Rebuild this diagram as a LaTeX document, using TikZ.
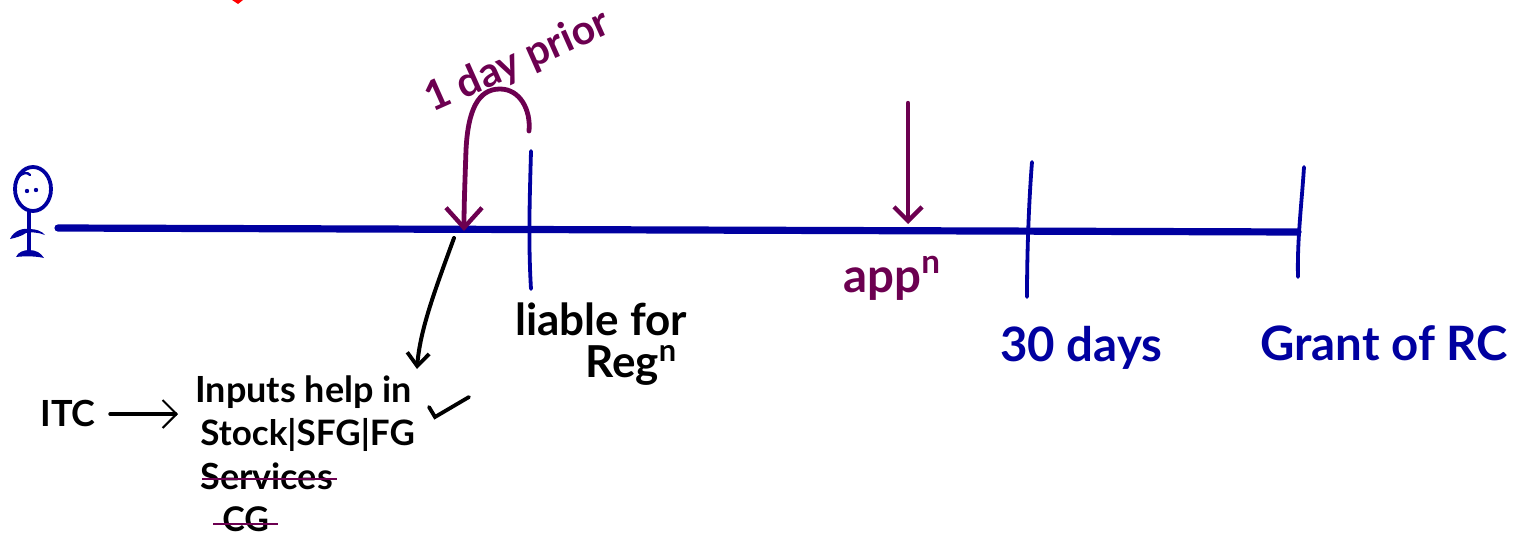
\documentclass[tikz,border=0pt]{standalone}
\usepackage{fontspec}
\setmainfont{Lato}
\usetikzlibrary{arrows.meta}
\definecolor{pen}{HTML}{0000A0}
\definecolor{plum}{HTML}{6C0050}
\tikzset{
  every picture/.style={x=0.5pt,y=-0.5pt},
  blueline/.style={draw=pen,line width=1.9pt,line cap=round},
  axisline/.style={draw=pen,line width=3.6pt,line cap=round},
  plumarrow/.style={draw=plum,line width=2.4pt,line cap=round,-{Straight Barb[length=10pt,width=18pt,line width=2.2pt]}},
  plumarrowsmall/.style={draw=plum,line width=2.2pt,line cap=round,-{Straight Barb[length=7pt,width=14pt,line width=2.2pt]}},
  blackarrow/.style={draw=black,line width=2pt,line cap=round,-{Straight Barb[length=6.5pt,width=11pt,line width=1.9pt]}},
  thinarrow/.style={draw=black,line width=1.7pt,line cap=round,-{Straight Barb[length=7pt,width=14pt,line width=1pt]}},
  strike/.style={draw=plum,line width=1.4pt},
  label/.style={inner sep=0pt,anchor=base west},
  bluetext/.style={label,text=pen,font=\bfseries\fontsize{23.7}{24}\selectfont},
  plumtext/.style={label,text=plum,font=\bfseries\fontsize{23.7}{24}\selectfont},
  blacktext/.style={label,text=black,font=\bfseries\fontsize{18}{18}\selectfont},
}
\begin{document}
\begin{tikzpicture}
\useasboundingbox (0,0) rectangle (1528,557);
% red mark cut by the top edge
\fill[red] (232,0) -- (243,0) -- (238,4) -- cycle;
% person
\draw[blueline] (33,189) ellipse [x radius=18,y radius=22];
\draw[blueline,line width=1.2pt] (18,178) .. controls (22,172) and (28,172) .. (30,175);
\fill[pen] (27,191) circle (2.2);
\fill[pen] (36,190) circle (2.2);
\draw[blueline] (29,212) -- (29,252);
\fill[pen] (10,239) .. controls (14,230) and (24,228) .. (29,229) .. controls (36,229) and (42,231) .. (45,235) .. controls (38,232) and (30,232) .. (26,233) .. controls (22,236) and (15,238) .. (10,239) -- cycle;
\fill[pen] (16,257) .. controls (18,252) and (24,250) .. (29,250) .. controls (36,250) and (41,253) .. (44,258) .. controls (36,256) and (24,256) .. (16,257) -- cycle;
% axis
\coordinate (axisL) at (58,228);
\coordinate (axisR) at (1298,232);
\draw[axisline] (axisL) -- (axisR);
% ticks
\coordinate (t1a) at (531,151); \coordinate (t1b) at (531,289);
\coordinate (t2a) at (1032,162); \coordinate (t2b) at (1027,297);
\coordinate (t3a) at (1304,167); \coordinate (t3b) at (1298,277);
\draw[blueline] (t1a) .. controls (530,190) and (528,240) .. (t1b);
\draw[blueline] (t2a) .. controls (1029,200) and (1027,250) .. (t2b);
\draw[blueline] (t3a) .. controls (1302,200) and (1297,240) .. (t3b);
% labels
\node[plumtext,rotate=24,anchor=center,font=\bfseries\fontsize{20.5}{21}\selectfont] (prior) at (518,62) {1 day prior};
\node[blacktext,font=\bfseries\fontsize{22}{22}\selectfont] (liable) at (515,335) {liable for};
\node[blacktext,font=\bfseries\fontsize{22}{22}\selectfont] (regn) at (585,377) {Reg\textsuperscript{n}};
\node[plumtext] (appn) at (843,292) {app\textsuperscript{n}};
\node[bluetext] (days) at (1000,361) {30 days};
\node[bluetext] (grant) at (1260,360) {Grant of RC};
\node[blacktext,font=\bfseries\fontsize{18}{18}\selectfont] (itc) at (40,426) {ITC};
\node[blacktext] (inputs) at (195,402) {Inputs help in};
\node[blacktext,font=\bfseries\fontsize{17.5}{18}\selectfont] (stock) at (200,445) {Stock|SFG|FG};
\node[blacktext] (services) at (200,489) {Services};
\node[blacktext,font=\bfseries\fontsize{17}{17}\selectfont] (cg) at (222,531) {CG};
% connectors
\coordinate (curveS) at (529,131);
\coordinate (curveE) at (464,231);
\coordinate (appTop) at (908,103);
\coordinate (appEnd) at (908,224);
\coordinate (blackS) at (454,238);
\coordinate (blackE) at (417,369);
\draw[plumarrow] (curveS) .. controls (531,110) and (520,89) .. (500,89)
   .. controls (478,89) and (468,110) .. (466,150) .. controls (465,180) and (464,205) .. (curveE);
\draw[plumarrowsmall] (appTop) -- (appEnd);
\draw[blackarrow] (blackS) .. controls (435,290) and (420,330) .. (blackE);
\draw[thinarrow] (110,414) -- (178,414) coordinate (itcE);
% tick mark
\draw[black,line width=1.9pt,line cap=round] (429,407) -- (435,417) -- (469,397);
% strike-throughs
\draw[strike] (202,479) -- (337,479);
\draw[strike] (213,524) -- (278,524);
\end{tikzpicture}
\end{document}
